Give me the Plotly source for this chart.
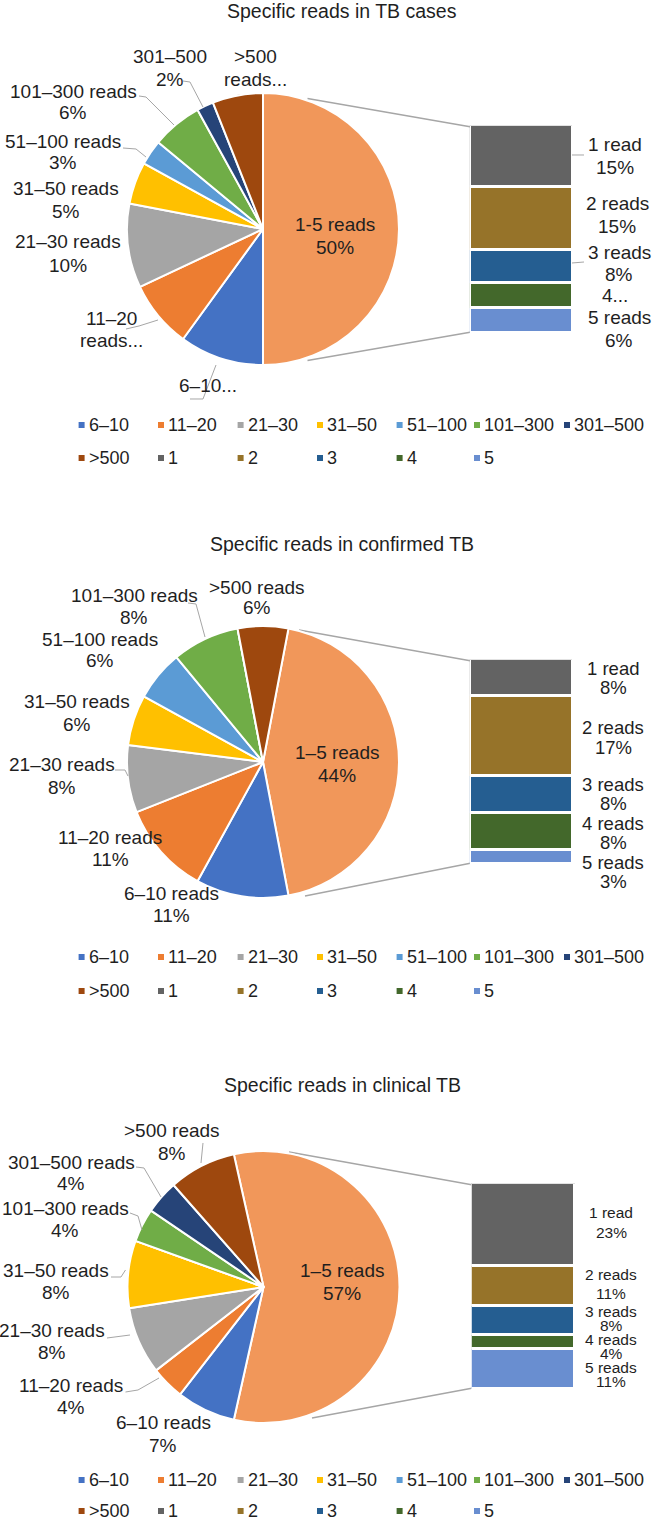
import plotly.graph_objects as go

W, H = 656, 1531
FONT = "Liberation Sans, Arial, sans-serif"
TEXT = "#1f1f1f"
LINE = "#a6a6a6"

# ---------------- data ----------------
range_categories = ["6–10", "11–20", "21–30", "31–50", "51–100", "101–300", "301–500", ">500"]
read_categories = ["1", "2", "3", "4", "5"]
other_category = "1–5"

tb_cases_ranges = [10, 8, 10, 5, 3, 6, 2, 6]
tb_cases_reads = [15, 15, 8, 6, 6]

confirmed_ranges = [11, 11, 8, 6, 6, 8, 0, 6]
confirmed_reads = [8, 17, 8, 8, 3]

clinical_ranges = [7, 4, 8, 8, 0, 4, 4, 8]
clinical_reads = [23, 11, 8, 4, 11]

titles = ["Specific reads in TB cases",
          "Specific reads in confirmed TB",
          "Specific reads in clinical TB"]

range_colors = ["#4472C4", "#ED7D31", "#A5A5A5", "#FFC000", "#5B9BD5",
                "#70AD47", "#264478", "#9E480E"]
read_colors = ["#636363", "#967329", "#255E91", "#43682B", "#698ED0"]
other_color = "#F1975A"

# label text overrides (truncated labels as in the original)
text_overrides = [
    {"301–500": ["301–500", None], ">500": [">500", "reads..."],
     "11–20": ["11–20", "reads..."], "6–10": ["6–10..."],
     "other": ["1-5 reads", None], "4": ["4..."]},
    {},
    {},
]

# ---------------- layout (pixel positions) ----------------
charts = [
    dict(ranges=tb_cases_ranges, reads=tb_cases_reads,
         title_y=11, pie_c=(263, 229), r=136, bar=(471.5, 127, 571.5, 332),
         conn=((307.5, 98.5), (307.5, 360.5)), legend_y=(425, 458),
         font=19, bar_font=19,
         pos={"301–500": (169.5, [56, 79]), ">500": (255, [56, 79]),
              "101–300": (73, [91, 113]), "51–100": (63, [142, 163]),
              "31–50": (66, [188, 211]), "21–30": (68, [242, 265]),
              "11–20": (111, [318, 340]), "6–10": (208, [385]),
              "other": (335, [225, 248]),
              "1": (615, [145, 167]), "2": (617, [203, 226]), "3": (619, [252, 274]),
              "4": (615, [296]), "5": (619, [317, 340])},
         leaders=[[(183, 81), (190, 82), (203, 107)],
                  [(139, 96), (146, 97), (174, 125)],
                  [(123, 148), (136, 149), (146, 157)],
                  [(126, 329), (139, 326), (158, 320)],
                  [(190, 399), (203, 399), (216, 365)],
                  [(572, 155), (584, 155)],
                  [(572, 263), (584, 262)]]),
    dict(ranges=confirmed_ranges, reads=confirmed_reads,
         title_y=544, pie_c=(263, 762), r=136, bar=(471.5, 661, 571.5, 863),
         conn=((299, 630), (305, 896)), legend_y=(957, 991),
         font=19, bar_font=18.5,
         pos={">500": (257, [587, 608]), "101–300": (134, [595, 617]),
              "51–100": (100, [639, 661]), "31–50": (77, [702, 724]),
              "21–30": (62, [764, 787]), "11–20": (110, [837, 859]),
              "6–10": (171.5, [893, 915]), "other": (337, [752, 775]),
              "1": (613, [668, 687]), "2": (613, [727, 747]), "3": (613, [784, 803]),
              "4": (613, [823, 842]), "5": (613, [862, 881])},
         leaders=[[(188, 603), (196, 604), (205, 637)],
                  [(115, 770), (125, 770), (128, 776)]]),
    dict(ranges=clinical_ranges, reads=clinical_reads,
         title_y=1085, pie_c=(263.5, 1287), r=136, bar=(473, 1185, 574, 1388),
         conn=((289, 1152), (312, 1418)), legend_y=(1480, 1511),
         font=19, bar_font=15.5,
         pos={">500": (171.5, [1130, 1153]), "301–500": (71, [1162, 1183]),
              "101–300": (65, [1208, 1230]), "31–50": (56.5, [1270, 1292]),
              "21–30": (52, [1330, 1352]), "11–20": (71, [1385, 1407]),
              "6–10": (163, [1422, 1445]), "other": (342, [1270, 1293]),
              "1": (611, [1212, 1232]), "2": (611, [1274, 1293]), "3": (611, [1311, 1325]),
              "4": (611, [1339, 1353]), "5": (611, [1367, 1381])},
         leaders=[[(203, 1143), (201, 1163)],
                  [(136, 1167), (144, 1168), (161, 1197)],
                  [(130, 1213), (138, 1216), (142, 1230)],
                  [(111, 1277), (121, 1277), (125.5, 1270)],
                  [(107, 1338), (130, 1335)],
                  [(125.5, 1392), (138, 1390), (159, 1378)]]),
]
legend_cols = [81.6, 161, 240.6, 320, 399.6, 477, 567]
BAR_GAP = 3.3


def px(x):
    return x / W


def py(y):
    return 1 - y / H


fig = go.Figure()
annotations = []
shapes = []


def add_text(x, y, s, size, anchor="center"):
    annotations.append(dict(x=px(x), y=py(y), xref="paper", yref="paper", text=s,
                            showarrow=False, xanchor=anchor, yanchor="middle",
                            borderpad=0,
                            font=dict(size=size, color=TEXT, family=FONT)))


layout_axes = {}
for k, ch in enumerate(charts):
    ranges, reads = ch["ranges"], ch["reads"]
    other = sum(reads)
    total = other + sum(ranges)
    cx, cy = ch["pie_c"]
    r = ch["r"]

    # ---- pie ----
    fig.add_trace(go.Pie(
        values=[other] + ranges,
        labels=[other_category] + range_categories,
        marker=dict(colors=[other_color] + range_colors, line=dict(color="white", width=2)),
        sort=False, direction="clockwise",
        rotation=90 - 360 * other / total / 2,
        textinfo="none", hoverinfo="label+percent", showlegend=False,
        domain=dict(x=[px(cx - r), px(cx + r)], y=[py(cy + r), py(cy - r)]),
    ))

    # ---- stacked bar ----
    sfx = "" if k == 0 else str(k + 1)
    x0, y0, x1, y1 = ch["bar"]
    for cat, v, col in zip(read_categories, reads, read_colors):
        fig.add_trace(go.Bar(x=[0], y=[v], width=1, name=cat,
                             marker=dict(color=col, line=dict(color="white", width=BAR_GAP)),
                             xaxis="x" + sfx, yaxis="y" + sfx, showlegend=False,
                             hoverinfo="name+y"))
    layout_axes["xaxis" + sfx] = dict(domain=[px(x0 - BAR_GAP / 2), px(x1 + BAR_GAP / 2)],
                                      range=[-0.5, 0.5], visible=False,
                                      anchor="y" + sfx, fixedrange=True)
    layout_axes["yaxis" + sfx] = dict(domain=[py(y1 + BAR_GAP / 2), py(y0 - BAR_GAP / 2)],
                                      range=[other, 0], visible=False,
                                      anchor="x" + sfx, fixedrange=True)

    # ---- series lines (pie -> bar) ----
    (ux, uy), (lx, ly) = ch["conn"]
    shapes.append(dict(type="line", xref="paper", yref="paper", x0=px(ux), y0=py(uy),
                       x1=px(x0), y1=py(y0), line=dict(color=LINE, width=1.3), layer="below"))
    shapes.append(dict(type="line", xref="paper", yref="paper", x0=px(lx), y0=py(ly),
                       x1=px(x0), y1=py(y1), line=dict(color=LINE, width=1.3), layer="below"))

    # ---- leader lines ----
    for pts in ch["leaders"]:
        path = "M " + " L ".join(f"{px(a):.5f},{py(b):.5f}" for a, b in pts)
        shapes.append(dict(type="path", xref="paper", yref="paper", path=path,
                           line=dict(color=LINE, width=1), layer="above"))

    # ---- title ----
    add_text(342, ch["title_y"], titles[k], 19.5)

    # ---- data labels ----
    ov = text_overrides[k]
    for cat, v in zip(range_categories, ranges):
        if cat not in ch["pos"]:
            continue
        lines = [f"{cat} reads", f"{round(100 * v / total)}%"]
        if cat in ov:
            o = ov[cat]
            lines = [a if a is not None else b for a, b in zip(o, lines)]
        x, ys = ch["pos"][cat]
        for s, yy in zip(lines, ys):
            add_text(x, yy, s, ch["font"])
    lines = [f"{other_category} reads", f"{round(100 * other / total)}%"]
    if "other" in ov:
        lines = [a if a is not None else b for a, b in zip(ov["other"], lines)]
    x, ys = ch["pos"]["other"]
    for s, yy in zip(lines, ys):
        add_text(x, yy, s, ch["font"])
    for cat, v in zip(read_categories, reads):
        lines = [f"{cat} read" if cat == "1" else f"{cat} reads",
                 f"{round(100 * v / total)}%"]
        if cat in ov:
            lines = ov[cat]
        x, ys = ch["pos"][cat]
        for s, yy in zip(lines, ys):
            add_text(x, yy, s, ch["bar_font"])

    # ---- legend ----
    items = list(zip(range_categories + read_categories, range_colors + read_colors))
    for i, (name, col) in enumerate(items):
        row, c = divmod(i, len(legend_cols))
        lx0 = legend_cols[c]
        ly0 = ch["legend_y"][row]
        shapes.append(dict(type="rect", xref="paper", yref="paper",
                           x0=px(lx0 - 3), x1=px(lx0 + 3), y0=py(ly0 + 3), y1=py(ly0 - 3),
                           fillcolor=col, line=dict(width=0)))
        add_text(lx0 + 6, ly0, name, 18, anchor="left")

fig.update_layout(
    width=W, height=H, margin=dict(l=0, r=0, t=0, b=0),
    paper_bgcolor="white", plot_bgcolor="white",
    barmode="stack", bargap=0, showlegend=False,
    font=dict(family=FONT, color=TEXT),
    annotations=annotations, shapes=shapes,
    **layout_axes,
)

fig.write_html("out.html", config={"displayModeBar": False},
               post_script="document.body.style.margin='0px';document.body.style.padding='0px';")
